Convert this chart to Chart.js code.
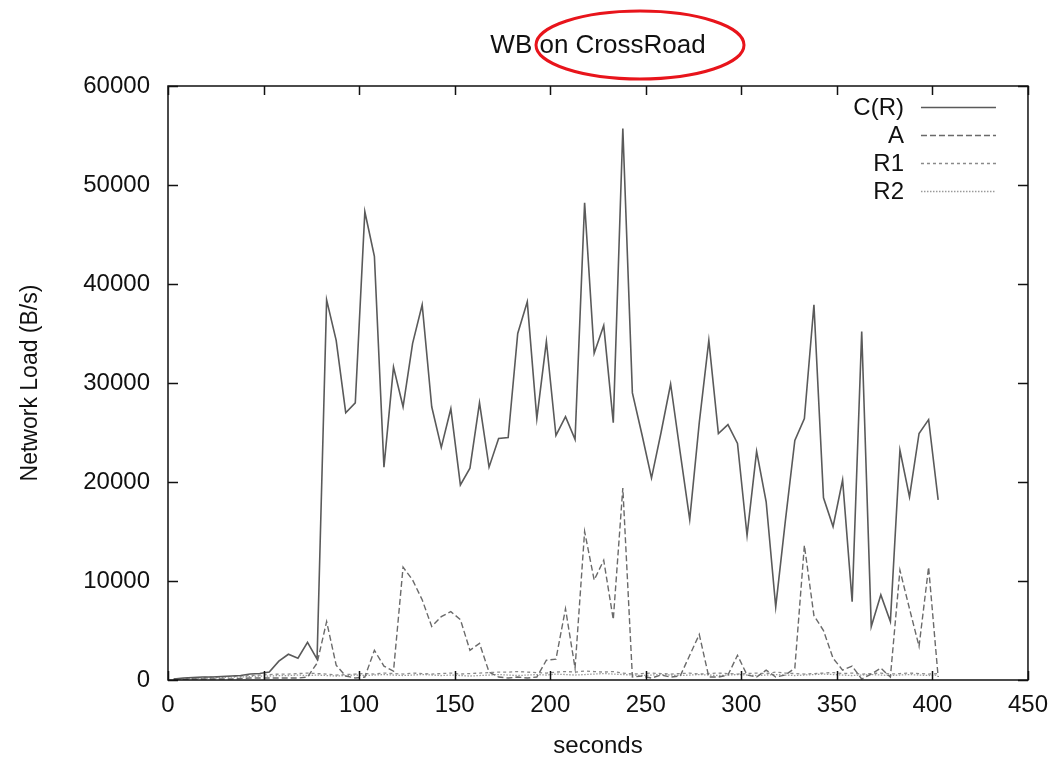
<!DOCTYPE html>
<html>
<head>
<meta charset="utf-8">
<script src="https://cdn.jsdelivr.net/npm/chart.js@4.4.1/dist/chart.umd.min.js"></script>
<style>
  html, body { margin: 0; padding: 0; background: #fff; }
  #c { display: block; }
</style>
</head>
<body>
<canvas id="c" width="1059" height="760"></canvas>
<script>
const TITLE = 'WB on CrossRoad';
const X_TITLE = 'seconds';
const Y_TITLE = 'Network Load (B/s)';
const X_TICKS = [0, 50, 100, 150, 200, 250, 300, 350, 400, 450];
const Y_TICKS = [0, 10000, 20000, 30000, 40000, 50000, 60000];

// sample times (s)
const TIMES = [3, 8, 13, 18, 23, 28, 33, 38, 43, 48,
  53, 58, 63, 68, 73, 78, 83, 88, 93, 98,
  103, 108, 113, 118, 123, 128, 133, 138, 143, 148,
  153, 158, 163, 168, 173, 178, 183, 188, 193, 198,
  203, 208, 213, 218, 223, 228, 233, 238, 243, 248,
  253, 258, 263, 268, 273, 278, 283, 288, 293, 298,
  303, 308, 313, 318, 323, 328, 333, 338, 343, 348,
  353, 358, 363, 368, 373, 378, 383, 388, 393, 398,
  403];

const CR = [100, 200, 250, 300, 300, 350, 400, 450, 600, 650,
  800, 1900, 2600, 2200, 3800, 2100, 38400, 34300, 27000, 28000,
  47300, 42800, 21500, 31600, 27600, 34000, 37900, 27600, 23500, 27400,
  19700, 21400, 28000, 21500, 24400, 24500, 35000, 38200, 26400, 34200,
  24700, 26600, 24300, 48200, 33000, 35800, 26000, 55700, 29000, 24800,
  20400, 25000, 29900, 23000, 16200, 26000, 34300, 24900, 25800, 23900,
  14600, 23100, 18000, 7400, 16000, 24200, 26400, 37900, 18400, 15500,
  20200, 7900, 35200, 5400, 8600, 5900, 23200, 18500, 24900, 26300,
  18200];

const A = [0, 50, 100, 100, 100, 100, 100, 150, 200, 200,
  200, 200, 200, 200, 300, 1700, 5900, 1500, 400, 200,
  300, 3000, 1400, 900, 11400, 10100, 8100, 5400, 6400, 6900,
  6100, 3000, 3700, 800, 300, 200, 300, 200, 300, 2000,
  2100, 7200, 1200, 15000, 10100, 12100, 6100, 19400, 300, 400,
  200, 500, 300, 400, 2500, 4600, 300, 300, 500, 2500,
  500, 300, 1000, 300, 500, 1200, 13600, 6500, 5000, 2200,
  1000, 1400, 100, 600, 1200, 300, 11100, 7200, 3400, 11400,
  300];

const R1 = [100, 150, 200, 250, 300, 300, 350, 400, 450, 500,
  550, 600, 600, 650, 700, 650, 600, 500, 550, 600,
  650, 600, 700, 650, 600, 700, 650, 600, 650, 700,
  600, 650, 700, 750, 800, 800, 850, 800, 750, 700,
  800, 850, 800, 900, 850, 800, 850, 700, 600, 650,
  700, 650, 600, 650, 700, 600, 650, 700, 650, 600,
  650, 700, 650, 800, 700, 650, 600, 650, 700, 750,
  650, 700, 600, 650, 700, 600, 650, 700, 650, 600,
  650];

const R2 = [50, 100, 150, 200, 200, 250, 300, 300, 350, 400,
  400, 450, 450, 500, 450, 500, 450, 400, 450, 500,
  450, 500, 550, 500, 450, 500, 550, 500, 450, 500,
  450, 400, 450, 500, 550, 500, 450, 500, 550, 500,
  600, 550, 500, 550, 600, 650, 600, 550, 500, 450,
  500, 550, 500, 450, 500, 550, 500, 450, 500, 550,
  500, 450, 500, 550, 500, 450, 500, 550, 600, 550,
  500, 450, 500, 550, 500, 450, 500, 550, 500, 450,
  500];

const FONT = '"Liberation Sans", Arial, sans-serif';
const pts = arr => TIMES.map((t, i) => ({ x: t, y: arr[i] }));

function series(label, arr, color, dash, width) {
  return {
    label, data: pts(arr),
    borderColor: color, borderWidth: width, borderDash: dash,
    pointRadius: 0, tension: 0, fill: false
  };
}

// gnuplot style frame: box, inward ticks on all sides, legend, title
const gnuFrame = {
  id: 'gnuFrame',
  afterDraw(chart) {
    const { ctx, chartArea: ca, scales: { x, y } } = chart;
    ctx.save();
    ctx.strokeStyle = '#111';
    ctx.lineWidth = 1.5;
    ctx.strokeRect(ca.left, ca.top, ca.width, ca.height);
    ctx.beginPath();
    X_TICKS.forEach(v => {
      const px = Math.round(x.getPixelForValue(v)) + 0.5;
      ctx.moveTo(px, ca.bottom); ctx.lineTo(px, ca.bottom - 9);
      ctx.moveTo(px, ca.top); ctx.lineTo(px, ca.top + 9);
    });
    Y_TICKS.forEach(v => {
      const py = Math.round(y.getPixelForValue(v)) + 0.5;
      ctx.moveTo(ca.left, py); ctx.lineTo(ca.left + 10, py);
      ctx.moveTo(ca.right, py); ctx.lineTo(ca.right - 10, py);
    });
    ctx.stroke();

    // legend
    ctx.font = '24px ' + FONT;
    ctx.textAlign = 'right';
    ctx.textBaseline = 'middle';
    chart.data.datasets.forEach((ds, i) => {
      const yy = ca.top + 21 + i * 28;
      ctx.fillStyle = '#111';
      ctx.fillText(ds.label, ca.right - 124, yy + 1);
      ctx.beginPath();
      ctx.setLineDash(ds.borderDash || []);
      ctx.strokeStyle = ds.borderColor;
      ctx.lineWidth = ds.borderWidth;
      ctx.moveTo(ca.right - 107, yy + 0.5);
      ctx.lineTo(ca.right - 32, yy + 0.5);
      ctx.stroke();
    });
    ctx.setLineDash([]);

    // title
    ctx.font = '26px ' + FONT;
    ctx.textAlign = 'center';
    ctx.fillStyle = '#111';
    ctx.fillText(TITLE, (ca.left + ca.right) / 2, 46);

    // red mark around part of the title
    ctx.beginPath();
    ctx.ellipse(640, 45, 104, 34, 0, 0, Math.PI * 2);
    ctx.strokeStyle = '#e8141b';
    ctx.lineWidth = 3;
    ctx.stroke();
    ctx.restore();
  }
};

new Chart(document.getElementById('c'), {
  type: 'line',
  data: {
    datasets: [
      series('C(R)', CR, '#5a5a5a', [], 1.6),
      series('A', A, '#6a6a6a', [6, 3], 1.4),
      series('R1', R1, '#8a8a8a', [3, 3], 1.3),
      series('R2', R2, '#9a9a9a', [1.5, 1.5], 1.3)
    ]
  },
  options: {
    responsive: false,
    animation: false,
    layout: { padding: { top: 86, right: 27, left: 0, bottom: 0 } },
    plugins: { legend: { display: false }, title: { display: false }, tooltip: { enabled: false } },
    scales: {
      x: {
        type: 'linear', min: 0, max: 450,
        afterFit: s => { s.height = 80; },
        afterBuildTicks: s => { s.ticks = X_TICKS.map(v => ({ value: v })); },
        grid: { display: false, drawTicks: false },
        border: { display: false },
        ticks: { color: '#111', font: { family: FONT, size: 24 }, padding: 11, maxRotation: 0,
                 callback: v => String(v) },
        title: { display: true, text: X_TITLE, color: '#111', font: { family: FONT, size: 24, lineHeight: 1 }, padding: { top: 0, bottom: 2 } }
      },
      y: {
        min: 0, max: 60000,
        afterFit: s => { s.width = 168; },
        afterBuildTicks: s => { s.ticks = Y_TICKS.map(v => ({ value: v })); },
        grid: { display: false, drawTicks: false },
        border: { display: false },
        ticks: { color: '#111', font: { family: FONT, size: 24 }, padding: 18,
                 callback: v => String(v) },
        title: { display: true, text: Y_TITLE, color: '#111', font: { family: FONT, size: 23 }, padding: { top: 17, bottom: 0 } }
      }
    }
  },
  plugins: [gnuFrame]
});
</script>
</body>
</html>
